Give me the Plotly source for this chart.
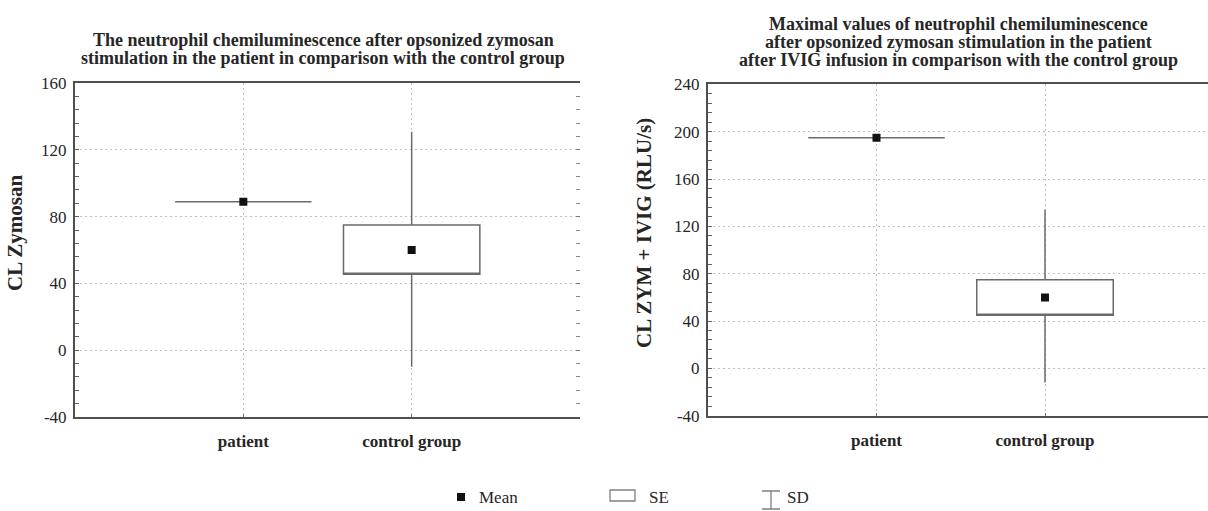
import plotly.graph_objects as go

# ---- data ----
categories = ["patient", "control group"]

# Left panel: CL Zymosan
left_mean = [89, 60]
left_se_low = [89, 45.5]
left_se_high = [89, 75]
left_sd_low = [89, -10]
left_sd_high = [89, 131]

# Right panel: CL ZYM + IVIG (RLU/s)
right_mean = [195, 60]
right_se_low = [195, 45]
right_se_high = [195, 75]
right_sd_low = [195, -12]
right_sd_high = [195, 134]

left_title_lines = ["The neutrophil chemiluminescence after opsonized zymosan",
                    "stimulation in the patient in comparison with the control group"]
right_title_lines = ["Maximal values of neutrophil chemiluminescence",
                     "after opsonized zymosan stimulation in the patient",
                     "after IVIG infusion in comparison with the control group"]
left_ytitle = "CL Zymosan"
right_ytitle = "CL ZYM + IVIG (RLU/s)"
left_yticks = [-40, 0, 40, 80, 120, 160]
right_yticks = [-40, 0, 40, 80, 120, 160, 200, 240]
legend_labels = ["Mean", "SE", "SD"]

W, H = 1208, 511
FONT = "Liberation Serif"
LINE = "#6a6a6a"
GRID = "#c0c0c0"
TXT = "#262626"
DOT = "2px,3px"

fig = go.Figure()

def add_panel(xa, ya, mean, lo, hi, sdlo, sdhi):
    fig.add_trace(go.Box(
        x=categories, q1=lo, median=lo, q3=hi, lowerfence=sdlo, upperfence=sdhi,
        width=0.81, whiskerwidth=0, boxpoints=False,
        line=dict(color=LINE, width=1.5), fillcolor="rgba(255,255,255,1)",
        xaxis=xa, yaxis=ya, showlegend=False, hoverinfo="skip"))
    fig.add_trace(go.Scatter(
        x=categories, y=mean, mode="markers",
        marker=dict(symbol="square", size=8, color="#111111"),
        xaxis=xa, yaxis=ya, showlegend=False, hoverinfo="skip"))

add_panel("x", "y", left_mean, left_se_low, left_se_high, left_sd_low, left_sd_high)
add_panel("x2", "y2", right_mean, right_se_low, right_se_high, right_sd_low, right_sd_high)
# invisible trace for mirrored right ticks of left panel
fig.add_trace(go.Scatter(x=categories, y=[None, None], xaxis="x", yaxis="y3",
                         showlegend=False, hoverinfo="skip"))

def xax(domain, rng, anchor):
    return dict(domain=domain, range=rng, type="category", anchor=anchor,
                tickvals=categories, ticktext=["<b>%s</b>" % c for c in categories],
                tickfont=dict(family=FONT, size=17, color=TXT),
                showline=True, linecolor="#505050", linewidth=2, mirror=True,
                showgrid=True, gridcolor=GRID, griddash=DOT, gridwidth=1,
                ticks="inside", ticklen=3, tickcolor="#777777",
                ticklabelstandoff=8, zeroline=False, fixedrange=True,
                automargin=False)

def yax(domain, rng, tickvals, anchor):
    return dict(domain=domain, range=rng, anchor=anchor,
                tickvals=tickvals, ticktext=[str(v) for v in tickvals],
                tickfont=dict(family=FONT, size=17, color=TXT),
                showline=True, linecolor="#505050", linewidth=2,
                showgrid=True, gridcolor=GRID, griddash=DOT, gridwidth=1,
                ticks="inside", ticklen=4, tickcolor="#666666",
                minor=dict(dtick=8, tick0=0, ticks="inside", ticklen=4,
                           tickcolor="#666666", showgrid=False),
                ticklabelstandoff=3, zeroline=False, automargin=False,
                fixedrange=True)

ldom_x = [75 / W, 580 / W]
ldom_y = [1 - 416.7 / H, 1 - 83.3 / H]
rdom_x = [708 / W, 1.0]
rdom_y = [1 - 415.7 / H, 1 - 84.4 / H]

fig.update_layout(
    width=W, height=H, margin=dict(l=0, r=0, t=0, b=0, autoexpand=False),
    paper_bgcolor="white", plot_bgcolor="white",
    xaxis=xax(ldom_x, [-1, 2], "y"),
    xaxis2=xax(rdom_x, [-1, -1 + (1208 - 708) / 168.5], "y2"),
    yaxis=yax(ldom_y, [-40, 160], left_yticks, "x"),
    yaxis2=yax(rdom_y, [-40, 240], right_yticks, "x2"),
    yaxis3=dict(overlaying="y", side="right", anchor="x", range=[-40, 160],
                tickvals=left_yticks, showticklabels=False, showline=False,
                showgrid=False, zeroline=False, ticks="inside", ticklen=4,
                tickcolor="#777777", automargin=False, fixedrange=True,
                minor=dict(dtick=8, tick0=0, ticks="inside", ticklen=4,
                           tickcolor="#888888", showgrid=False)),
    font=dict(family=FONT, color=TXT),
    showlegend=False,
)

# titles (one annotation per line to keep the tight line spacing)
lcx = 323 / W
for i, t in enumerate(left_title_lines):
    fig.add_annotation(text="<b>%s</b>" % t, xref="paper", yref="paper",
                       x=lcx, y=1 - (40 + 18 * i) / H, yanchor="middle",
                       xanchor="center", showarrow=False,
                       font=dict(family=FONT, size=18, color=TXT))
rcx = 958 / W
for i, t in enumerate(right_title_lines):
    fig.add_annotation(text="<b>%s</b>" % t, xref="paper", yref="paper",
                       x=rcx, y=1 - (24 + 18 * i) / H, yanchor="middle",
                       xanchor="center", showarrow=False,
                       font=dict(family=FONT, size=18, color=TXT))

# y-axis titles
fig.add_annotation(text="<b>%s</b>" % left_ytitle, xref="paper", yref="paper",
                   x=15 / W, y=1 - 233 / H, xanchor="center", yanchor="middle",
                   textangle=-90, showarrow=False,
                   font=dict(family=FONT, size=21, color=TXT))
fig.add_annotation(text="<b>%s</b>" % right_ytitle, xref="paper", yref="paper",
                   x=644 / W, y=1 - 233 / H, xanchor="center", yanchor="middle",
                   textangle=-90, showarrow=False,
                   font=dict(family=FONT, size=21, color=TXT))

# legend (bottom)
ly = 1 - 497 / H
fig.add_shape(type="rect", xref="paper", yref="paper",
              x0=457 / W, x1=465 / W, y0=1 - 501 / H, y1=1 - 493 / H,
              fillcolor="#111111", line=dict(width=0))
fig.add_annotation(text=legend_labels[0], xref="paper", yref="paper", x=477 / W, y=ly,
                   xanchor="left", yanchor="middle", showarrow=False,
                   font=dict(family=FONT, size=17, color=TXT))
fig.add_shape(type="rect", xref="paper", yref="paper",
              x0=610 / W, x1=635 / W, y0=1 - 501 / H, y1=1 - 490 / H,
              line=dict(color="#808080", width=1.3))
fig.add_annotation(text=legend_labels[1], xref="paper", yref="paper", x=647 / W, y=ly,
                   xanchor="left", yanchor="middle", showarrow=False,
                   font=dict(family=FONT, size=17, color=TXT))
fig.add_shape(type="path", xref="paper", yref="paper",
              path="M %f,%f L %f,%f M %f,%f L %f,%f M %f,%f L %f,%f" % (
                  762 / W, 1 - 491 / H, 780 / W, 1 - 491 / H,
                  771 / W, 1 - 491 / H, 771 / W, 1 - 509 / H,
                  762 / W, 1 - 509 / H, 780 / W, 1 - 509 / H),
              line=dict(color="#808080", width=1.3))
fig.add_annotation(text=legend_labels[2], xref="paper", yref="paper", x=785 / W, y=ly,
                   xanchor="left", yanchor="middle", showarrow=False,
                   font=dict(family=FONT, size=17, color=TXT))

fig.write_html("out.html", config={"displayModeBar": False},
               post_script="document.body.style.margin='0';document.body.style.overflow='hidden';")
